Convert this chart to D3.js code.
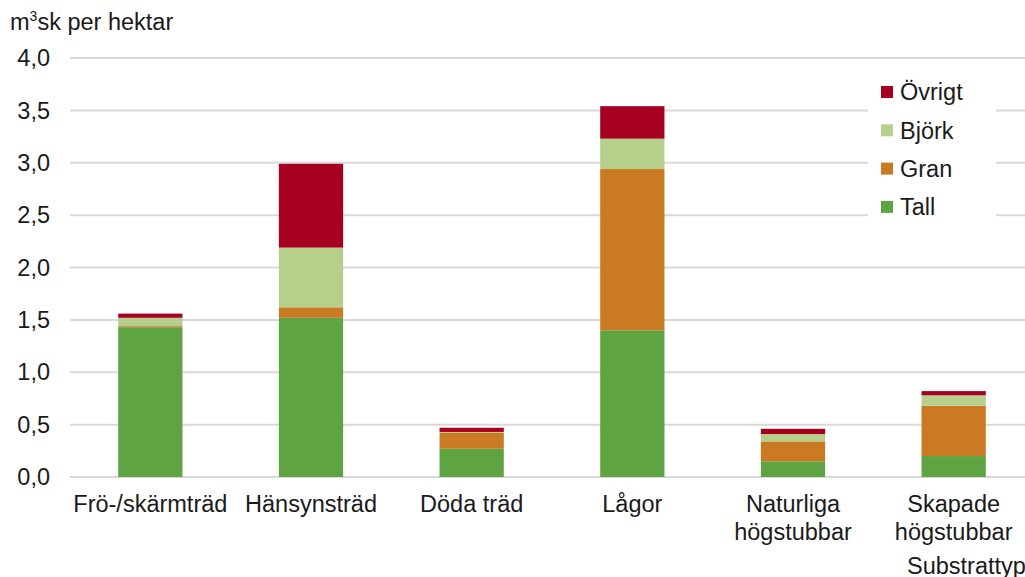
<!DOCTYPE html>
<html>
<head>
<meta charset="utf-8">
<script src="https://cdn.jsdelivr.net/npm/d3@7"></script>
<style>
  body { margin: 0; background: #fff; }
  svg { display: block; font-family: "Liberation Sans", Arial, sans-serif; }
</style>
</head>
<body>
<svg id="chart"></svg>
<script>
// data
const categories = ["Frö-/skärmträd", "Hänsynsträd", "Döda träd", "Lågor", "Naturliga\nhögstubbar", "Skapade\nhögstubbar"];
const tall    = [1.43, 1.52, 0.27, 1.40, 0.15, 0.20];
const gran    = [0.01, 0.10, 0.15, 1.54, 0.19, 0.48];
const bjork   = [0.08, 0.57, 0.01, 0.29, 0.07, 0.10];
const ovrigt  = [0.04, 0.80, 0.04, 0.31, 0.05, 0.04];
const seriesNames = ["Tall", "Gran", "Björk", "Övrigt"];
const yTicks = [0, 0.5, 1, 1.5, 2, 2.5, 3, 3.5, 4];

const colors = {"Tall": "#5fa443", "Gran": "#c97a22", "Björk": "#b6d08b", "Övrigt": "#a60021"};

const width = 1025, height = 577;
const fs = 23.5;
const svg = d3.select("#chart").attr("width", width).attr("height", height);

// build table for stack
const table = categories.map((c, i) => ({
  cat: c, "Tall": tall[i], "Gran": gran[i], "Björk": bjork[i], "Övrigt": ovrigt[i]
}));
const stacked = d3.stack().keys(seriesNames)(table);

let x = d3.scaleBand()
  .domain(categories)
  .range([70, 1034])
  .paddingInner(0.6)
  .paddingOuter(0.3);

let y = d3.scaleLinear()
  .domain([0, 4])
  .range([477, 58]);

const fmt = d => d3.format(".1f")(d).replace(".", ",");

// grid
svg.append("g")
  .selectAll("line")
  .data(yTicks)
  .join("line")
  .attr("x1", 70)
  .attr("x2", width)
  .attr("y1", d => y(d))
  .attr("y2", d => y(d))
  .attr("stroke", "#d9d9d9")
  .attr("stroke-width", 2);

// y tick labels
svg.append("g")
  .selectAll("text")
  .data(yTicks)
  .join("text")
  .attr("x", 50)
  .attr("y", d => y(d))
  .attr("dy", "0.35em")
  .attr("text-anchor", "end")
  .attr("font-size", fs)
  .attr("fill", "#1a1a1a")
  .text(fmt);

// bars
svg.append("g")
  .selectAll("g")
  .data(stacked)
  .join("g")
  .attr("fill", d => colors[d.key])
  .selectAll("rect")
  .data(d => d)
  .join("rect")
  .attr("x", d => x(d.data.cat))
  .attr("y", d => y(d[1]))
  .attr("width", x.bandwidth())
  .attr("height", d => y(d[0]) - y(d[1]));

// x labels
let xl = svg.append("g")
  .selectAll("text")
  .data(categories)
  .join("text")
  .attr("x", d => x(d) + x.bandwidth() / 2)
  .attr("y", 512)
  .attr("text-anchor", "middle")
  .attr("font-size", fs)
  .attr("fill", "#1a1a1a");
xl.selectAll("tspan")
  .data(d => d.split("\n"))
  .join("tspan")
  .attr("x", function() { return this.parentNode.getAttribute("x"); })
  .attr("dy", (d, i) => i === 0 ? 0 : 28)
  .text(d => d);

// axis title x
svg.append("text")
  .attr("x", 907)
  .attr("y", 574)
  .attr("font-size", fs)
  .attr("fill", "#1a1a1a")
  .text("Substrattyp");

// y unit label
let yt = svg.append("text")
  .attr("x", 10)
  .attr("y", 30)
  .attr("font-size", fs)
  .attr("fill", "#1a1a1a");
yt.append("tspan").text("m");
yt.append("tspan").attr("font-size", 14).attr("dy", -9).text("3");
yt.append("tspan").attr("dy", 9).text("sk per hektar");

// legend
let legend = svg.append("g");
legend.append("rect")
  .attr("x", 868)
  .attr("y", 72)
  .attr("width", 128)
  .attr("height", 156)
  .attr("fill", "#fff");

const legendOrder = ["Övrigt", "Björk", "Gran", "Tall"];
let items = legend.selectAll("g.item")
  .data(legendOrder)
  .join("g")
  .attr("class", "item")
  .attr("transform", (d, i) => `translate(881, ${92 + i * 38.3})`);
items.append("rect")
  .attr("x", 0)
  .attr("y", -6)
  .attr("width", 12)
  .attr("height", 12)
  .attr("fill", d => colors[d]);
items.append("text")
  .attr("x", 19)
  .attr("y", 0)
  .attr("dy", "0.35em")
  .attr("font-size", fs)
  .attr("fill", "#1a1a1a")
  .text(d => d);
</script>
</body>
</html>
